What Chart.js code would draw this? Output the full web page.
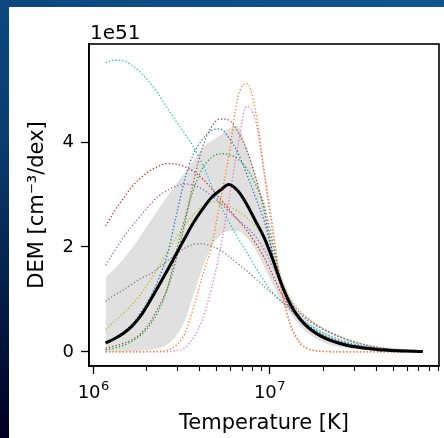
<!DOCTYPE html>
<html><head><meta charset="utf-8">
<script src="https://cdn.jsdelivr.net/npm/chart.js@4/dist/chart.umd.min.js"></script>
<style>
html,body{margin:0;padding:0;width:444px;height:438px;overflow:hidden;}
body{background:linear-gradient(200deg,#0f5590 0%,#0a3c70 50%,#000022 100%);}
#wrap{position:absolute;left:9px;top:7px;width:435px;height:431px;background:#fff;}
canvas{display:block;}
</style></head><body>
<div id="wrap"><canvas id="c" width="435" height="431"></canvas></div>
<script>
// log10 of temperature [K]
const logTemperature = [6.07,6.12,6.17,6.22,6.27,6.32,6.37,6.42,6.47,6.52,6.57,6.62,6.67,6.72,6.77,6.82,6.87,6.92,6.97,7.02,7.07,7.12,7.17,7.22,7.27,7.32,7.37,7.42,7.47,7.52,7.57,7.62,7.67,7.72,7.77,7.82,7.87];
// DEM values in units of 1e51 cm^-3/dex
const meanDEM  = [0.17,0.25,0.35,0.49,0.69,0.96,1.25,1.55,1.86,2.17,2.47,2.72,2.94,3.08,3.19,3.07,2.82,2.50,2.18,1.75,1.28,0.90,0.64,0.46,0.34,0.25,0.19,0.14,0.10,0.08,0.06,0.04,0.03,0.02,0.015,0.01,0.005];
const bandHigh = [1.42,1.58,1.77,1.98,2.22,2.47,2.72,2.96,3.20,3.42,3.65,3.88,4.02,4.13,4.26,4.30,3.92,3.38,2.80,2.05,1.45,1.02,0.76,0.58,0.45,0.36,0.28,0.21,0.16,0.12,0.09,0.07,0.05,0.04,0.03,0.02,0.015];
const bandLow  = [0.0,0.0,0.0,0.01,0.02,0.04,0.07,0.14,0.30,0.60,1.10,1.60,2.00,2.22,2.30,2.30,2.18,1.95,1.62,1.28,0.96,0.72,0.50,0.35,0.24,0.16,0.11,0.08,0.06,0.04,0.03,0.02,0.015,0.01,0.005,0.0,0.0];
const run1  = [0.17,0.26,0.38,0.52,0.75,1.02,1.38,1.85,2.58,3.30,3.78,4.05,4.22,4.25,4.08,3.80,3.40,2.95,2.50,1.85,1.25,0.88,0.65,0.50,0.39,0.30,0.23,0.18,0.14,0.11,0.08,0.06,0.045,0.035,0.025,0.02,0.015];
const run2  = [0,0,0,0,0,0.005,0.01,0.03,0.12,0.35,0.85,1.45,2.00,2.85,3.75,4.85,5.12,4.62,3.45,2.35,1.15,0.50,0.17,0.05,0.015,0.005,0,0,0,0,0,0,0,0,0,0,0];
const run3  = [0.04,0.07,0.12,0.20,0.32,0.50,0.78,1.20,1.90,2.55,3.10,3.50,3.70,3.78,3.76,3.68,3.50,3.20,2.80,2.05,1.30,0.90,0.66,0.50,0.38,0.29,0.22,0.17,0.13,0.10,0.075,0.055,0.04,0.03,0.02,0.015,0.01];
const run4  = [2.40,2.68,2.92,3.15,3.32,3.45,3.54,3.59,3.58,3.53,3.44,3.30,3.12,2.92,2.72,2.52,2.32,2.08,1.80,1.45,1.10,0.82,0.62,0.48,0.37,0.29,0.22,0.17,0.13,0.10,0.08,0.06,0.045,0.035,0.025,0.02,0.015];
const run5  = [1.65,1.92,2.18,2.40,2.60,2.80,2.97,3.08,3.16,3.20,3.18,3.10,2.98,2.84,2.68,2.52,2.38,2.20,1.95,1.62,1.25,0.96,0.76,0.62,0.50,0.41,0.33,0.26,0.20,0.15,0.11,0.08,0.06,0.045,0.03,0.02,0.015];
const run6  = [0.07,0.11,0.16,0.23,0.35,0.55,0.85,1.20,1.75,2.45,3.25,3.90,4.28,4.44,4.42,4.20,3.85,3.35,2.68,1.85,1.22,0.85,0.62,0.47,0.36,0.27,0.21,0.16,0.12,0.09,0.07,0.05,0.04,0.03,0.02,0.015,0.01];
const run7  = [0,0,0,0,0,0,0,0,0.02,0.08,0.28,0.62,1.20,1.94,2.90,3.90,4.68,4.42,3.40,2.20,1.15,0.52,0.20,0.06,0.02,0.005,0,0,0,0,0,0,0,0,0,0,0];
const run8  = [0.96,1.08,1.18,1.29,1.40,1.48,1.60,1.73,1.86,1.98,2.05,2.06,2.02,1.94,1.82,1.68,1.55,1.40,1.25,1.10,0.96,0.84,0.72,0.60,0.49,0.40,0.32,0.25,0.19,0.15,0.11,0.08,0.06,0.045,0.03,0.02,0.015];
const run9  = [0.43,0.58,0.73,0.90,1.10,1.35,1.62,1.90,2.18,2.42,2.62,2.78,2.86,2.85,2.78,2.68,2.56,2.40,2.15,1.78,1.32,1.00,0.80,0.64,0.52,0.42,0.34,0.27,0.21,0.16,0.12,0.09,0.065,0.05,0.035,0.025,0.02];
const run10 = [5.52,5.56,5.55,5.46,5.32,5.14,4.91,4.65,4.40,4.16,3.90,3.58,3.18,2.80,2.48,2.18,1.90,1.62,1.35,1.12,0.95,0.80,0.65,0.53,0.43,0.34,0.27,0.21,0.16,0.12,0.09,0.07,0.05,0.035,0.025,0.02,0.015];
const runs = [run1,run2,run3,run4,run5,run6,run7,run8,run9,run10];
const runColors = ['#1f77b4','#ff7f0e','#2ca02c','#d62728','#9467bd','#8c564b','#e377c2','#7f7f7f','#bcbd22','#17becf'];
// axis ticks
const xMajorTicks = [1e6, 1e7];
const xTickBase = ['10', '10'];
const xTickExponent = ['6', '7'];
const xMinorTicks = [2e6,3e6,4e6,5e6,6e6,7e6,8e6,9e6,2e7,3e7,4e7,5e7,6e7,7e7,8e7,9e7];
const yTicks = [0, 2, 4];

const pts = arr => arr.map((v, i) => ({x: Math.pow(10, logTemperature[i]), y: v}));
const FONT = 'DejaVu Sans';

const datasets = [];
datasets.push({data: pts(meanDEM), borderColor:'#000', borderWidth:3, pointRadius:0, fill:false, cubicInterpolationMode:'monotone', order:0});
runs.forEach((r, k) => datasets.push({data: pts(r), borderColor: runColors[k], borderWidth:1.3, borderDash:[1.3,2.1], pointRadius:0, fill:false, cubicInterpolationMode:'monotone', order:k+1}));
datasets.push({data: pts(bandHigh), borderWidth:0, borderColor:'rgba(0,0,0,0)', pointRadius:0, fill:'+1', backgroundColor:'#e0e0e0', cubicInterpolationMode:'monotone', order:20});
datasets.push({data: pts(bandLow), borderWidth:0, borderColor:'rgba(0,0,0,0)', pointRadius:0, fill:false, cubicInterpolationMode:'monotone', order:21});

const framePlugin = {
  id: 'frame',
  afterDraw(chart) {
    const {ctx, chartArea: a, scales: {x}} = chart;
    ctx.save();
    ctx.strokeStyle = '#000';
    ctx.lineWidth = 1.6;
    ctx.strokeRect(a.left, a.top, a.right - a.left, a.bottom - a.top);
    ctx.lineWidth = 1.1;
    ctx.beginPath();
    xMinorTicks.forEach(v => {
      const px = Math.round(x.getPixelForValue(v)) + 0.5;
      if (px < a.left || px > a.right) return;
      ctx.moveTo(px, a.bottom); ctx.lineTo(px, a.bottom + 5);
    });
    ctx.stroke();
    ctx.fillStyle = '#000';
    ctx.textBaseline = 'alphabetic';
    ctx.textAlign = 'left';
    // x tick labels: 10 with raised exponent
    xMajorTicks.forEach((v, i) => {
      const px = x.getPixelForValue(v);
      ctx.font = '18px "' + FONT + '"';
      const wb = ctx.measureText(xTickBase[i]).width;
      ctx.font = '13px "' + FONT + '"';
      const we = ctx.measureText(xTickExponent[i]).width;
      const start = px - (wb + we) / 2;
      ctx.font = '18px "' + FONT + '"';
      ctx.fillText(xTickBase[i], start, a.bottom + 32);
      ctx.font = '13px "' + FONT + '"';
      ctx.fillText(xTickExponent[i], start + wb + 0.5, a.bottom + 24);
    });
    ctx.font = '20px "' + FONT + '"';
    ctx.fillText('1e51', a.left + 1, a.top - 5);
    ctx.restore();
  }
};

new Chart(document.getElementById('c'), {
  type: 'line',
  data: {datasets},
  options: {
    responsive: false,
    animation: false,
    events: [],
    layout: {padding: {left: 0, top: 37, right: 5, bottom: 0}},
    plugins: {legend: {display: false}, tooltip: {enabled: false}},
    scales: {
      x: {
        type: 'logarithmic',
        min: Math.pow(10, 5.976), max: Math.pow(10, 7.962),
        afterBuildTicks: s => { s.ticks = xMajorTicks.map(v => ({value: v, major: true})); },
        afterFit: s => { s.height = 72; },
        ticks: {display: false},
        grid: {display: true, drawOnChartArea: false, drawTicks: true, tickLength: 8, tickWidth: 1.3, tickColor: '#000', color: '#000'},
        border: {display: true, color: '#000', width: 1.6},
        title: {display: true, text: 'Temperature [K]', font: {family: FONT, size: 21}, color: '#000', padding: {top: 0, bottom: 2}}
      },
      y: {
        type: 'linear',
        min: -0.27, max: 5.87,
        afterBuildTicks: s => { s.ticks = yTicks.map(v => ({value: v})); },
        afterFit: s => { s.width = 80; },
        ticks: {callback: v => String(v), font: {family: FONT, size: 18}, color: '#000', padding: 7},
        grid: {display: true, drawOnChartArea: false, drawTicks: true, tickLength: 8, tickWidth: 1.3, tickColor: '#000', color: '#000'},
        border: {display: true, color: '#000', width: 1.6},
        title: {display: true, text: 'DEM [cm\u207B\u00B3/dex]', font: {family: FONT, size: 21}, color: '#000', padding: {top: 16, bottom: 0}}
      }
    }
  },
  plugins: [framePlugin]
});
</script>
</body></html>
